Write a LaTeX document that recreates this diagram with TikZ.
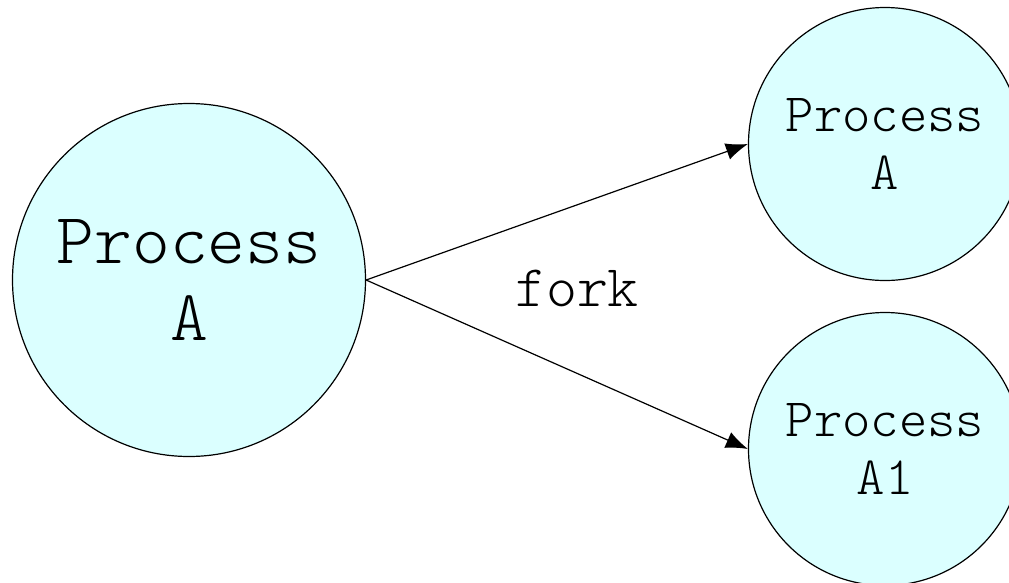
\documentclass[tikz,border=0pt]{standalone}
\usepackage{fontspec}
\setmonofont{Latin Modern Mono Light}
\usepackage{tikz}
\usetikzlibrary{arrows.meta}
\definecolor{proccyan}{RGB}{219,255,255}
\tikzstyle{proc} = [circle, draw, fill=proccyan, inner sep=0pt, align=center]

\begin{document}
\begin{tikzpicture}[x=1pt,y=-1pt]
			\tikzset{every path/.style={line width=1.2pt}}
\useasboundingbox (0,0) rectangle (1009,582);
\node[proc, minimum size=353pt, font=\ttfamily\fontsize{72}{77}\selectfont] (pa) at (189,280) {Process\\A};
\node[proc, minimum size=273pt, font=\ttfamily\fontsize{54}{58}\selectfont] (pb) at (885,144) {Process\\A};
\node[proc, minimum size=273pt, font=\ttfamily\fontsize{54}{58}\selectfont] (pc) at (885,449) {Process\\A1};
\node[font=\ttfamily\fontsize{59}{64}\selectfont, inner sep=0pt] (fork) at (577,288) {fork};

\foreach \from/\to in {pa.east/pb.west,pa.east/pc.west}
{
	\draw[-{Latex[length=22pt,width=17pt]}] (\from) -- (\to);
}

		\end{tikzpicture}
\end{document}
